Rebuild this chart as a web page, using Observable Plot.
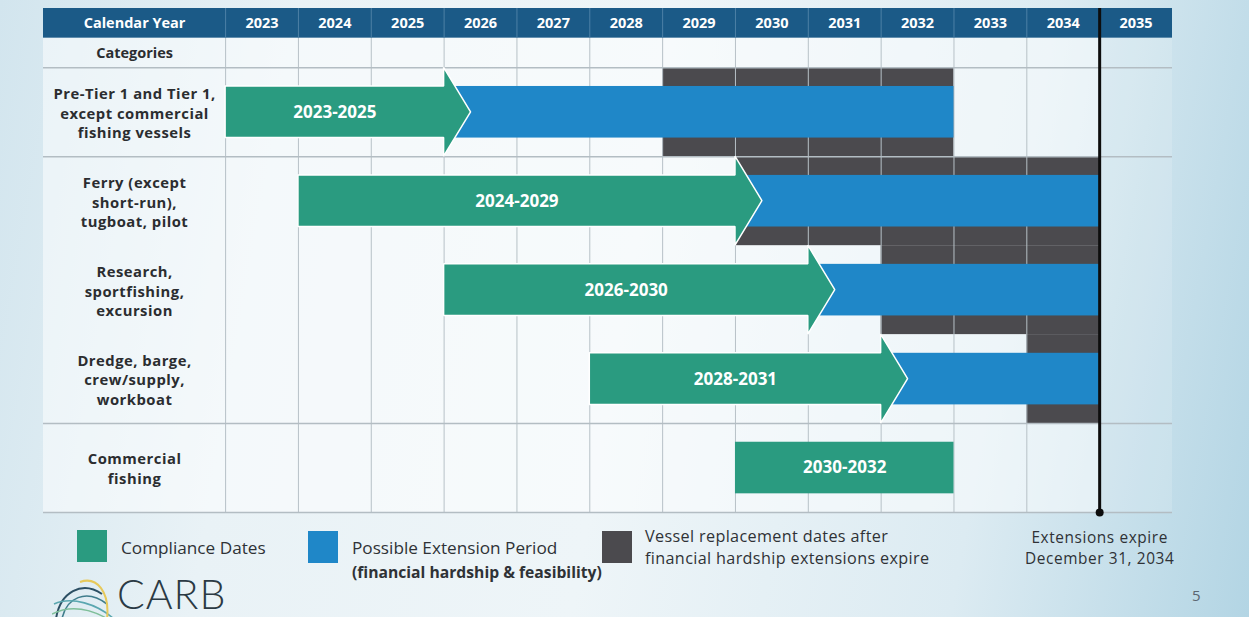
<!DOCTYPE html>
<html>
<head>
<meta charset="utf-8">
<script src="https://cdn.jsdelivr.net/npm/d3@7"></script>
<script src="https://cdn.jsdelivr.net/npm/@observablehq/plot@0.6"></script>
<style>
  html, body { margin: 0; padding: 0; }
  #page {
    position: relative; width: 1249px; height: 617px; overflow: hidden;
    font-family: "Open Sans", sans-serif;
    background: linear-gradient(100deg, #d2e5ee 0%, #e9f2f6 22%, #eef5f8 50%, #dcebf2 78%, #b3d5e4 100%);
  }
  #chart { position: absolute; left: 0; top: 0; }
  .sw { position: absolute; width: 30px; height: 32px; }
  .lt { position: absolute; font-size: 17.2px; color: #2f3236; line-height: 24px; white-space: nowrap; }
  .lb { font-weight: 700; font-size: 15.7px; }
  .l2 { font-size: 16.2px; letter-spacing: 0.35px; line-height: 22px; }
  #logo { position: absolute; left: 52px; top: 574px; }
  #carb { position: absolute; left: 117px; top: 569px; font-size: 41px; font-weight: 300; color: #2b3a44; letter-spacing: 1px; font-family: "Lato", sans-serif; line-height: 50px; }
  #pg { position: absolute; left: 1192px; top: 585px; font-size: 15px; color: #5a6570; }
</style>
</head>
<body>
<div id="page">
  <div id="chart"></div>
  <div class="sw" style="left:77px;top:530px;background:#2a9b80"></div>
  <div class="lt" style="left:121px;top:536px">Compliance Dates</div>
  <div class="sw" style="left:308px;top:531px;background:#1f87c8"></div>
  <div class="lt" style="left:352px;top:536px">Possible Extension Period</div>
  <div class="lt lb" style="left:352px;top:560px">(financial hardship &amp; feasibility)</div>
  <div class="sw" style="left:602px;top:531px;background:#4b4a4e"></div>
  <div class="lt l2" style="left:645px;top:525px">Vessel replacement dates after<br>financial hardship extensions expire</div>
  <svg id="logo" width="70" height="45" viewBox="0 0 70 45">
    <path d="M4 45 C 8 18, 30 6, 50 20" fill="none" stroke="#2c4f63" stroke-width="2"/>
    <path d="M10 45 C 14 24, 34 14, 55 30" fill="none" stroke="#3f7d8c" stroke-width="1.6"/>
    <path d="M2 30 C 20 22, 45 30, 62 45" fill="none" stroke="#5aa7b0" stroke-width="1.6"/>
    <path d="M28 8 C 45 2, 58 18, 55 45" fill="none" stroke="#e7c95a" stroke-width="2"/>
    <path d="M0 40 C 20 30, 40 36, 56 45" fill="none" stroke="#7fbf9a" stroke-width="1.4"/>
  </svg>
  <div id="carb">CARB</div>
  <div id="pg">5</div>
</div>
<script>
// ---- data ----
const categories = [
  "Pre-Tier 1 and Tier 1,\nexcept commercial\nfishing vessels",
  "Ferry (except\nshort-run),\ntugboat, pilot",
  "Research,\nsportfishing,\nexcursion",
  "Dredge, barge,\ncrew/supply,\nworkboat",
  "Commercial\nfishing"
];
const complianceStart = [2023, 2024, 2026, 2028, 2030];
const complianceEnd   = [2026, 2030, 2031, 2032, 2033];
const complianceLabels = ["2023-2025", "2024-2029", "2026-2030", "2028-2031", "2030-2032"];
const extensionEnd     = [2033, 2035, 2035, 2035, null];
const replacementStart = [2029, 2030, 2032, 2034, null];
const replacementEnd   = [2033, 2035, 2035, 2035, null];
const years = [2023, 2024, 2025, 2026, 2027, 2028, 2029, 2030, 2031, 2032, 2033, 2034, 2035];
const groupBreaks = [0, 1, 4, 5];
const extensionsExpire = 2035; // end of Dec 31, 2034
const expireNote = "Extensions expire\nDecember 31, 2034";
const headerTitle = "Calendar Year";
const categoriesTitle = "Categories";

// ---- layout helpers (row index space) ----
const xStart = 2020.5;            // left edge of the category column
const xEnd = years[years.length - 1] + 1;
const labelX = (xStart + years[0]) / 2;
const headerTop = -2/3, headerBottom = -1/3;
const barLo = 0.21, barHi = 0.79, arrowLen = 0.37;

const rows = categories.map((label, i) => ({
  i, label,
  cs: complianceStart[i], ce: complianceEnd[i], cl: complianceLabels[i],
  ee: extensionEnd[i], rs: replacementStart[i], re: replacementEnd[i]
}));
const withExt = rows.filter(r => r.ee != null);
const noExt = rows.filter(r => r.ee == null);
const arrows = withExt.flatMap(r => [
  {i: r.i, x: r.cs, y1: r.i + barLo, y2: r.i + barHi},
  {i: r.i, x: r.ce, y1: r.i + barLo, y2: r.i + barHi},
  {i: r.i, x: r.ce, y1: r.i + 0.0, y2: r.i + 1.0},
  {i: r.i, x: r.ce + arrowLen, y1: r.i + 0.5, y2: r.i + 0.5}
]);

const green = "#2a9b80", blue = "#1f87c8", gray = "#4b4a4e";

const chart = Plot.plot({
  width: 1249, height: 617,
  marginLeft: 43, marginRight: 77, marginTop: 8, marginBottom: 105,
  x: {domain: [xStart, xEnd], axis: null},
  y: {domain: [headerTop, 5], reverse: true, axis: null},
  style: {background: "transparent", fontFamily: "'Open Sans', sans-serif"},
  marks: [
    // table background
    Plot.rect([0], {x1: xStart, x2: extensionsExpire, y1: headerBottom, y2: 5, fill: "#ffffff", fillOpacity: 0.5}),
    Plot.rect([0], {x1: extensionsExpire, x2: xEnd, y1: headerBottom, y2: 5, fill: "#ffffff", fillOpacity: 0.15}),
    // replacement (gray)
    Plot.rect(withExt, {x1: "rs", x2: "re", y1: d => d.i, y2: d => d.i + 1, fill: gray}),
    // grid
    Plot.ruleX(years, {y1: headerBottom, y2: 5, stroke: "#b7c1c7", strokeWidth: 1}),
    Plot.ruleY(groupBreaks, {x1: xStart, x2: xEnd, stroke: "#b3bdc3", strokeWidth: 1.5}),
    // extension (blue)
    Plot.rect(withExt, {x1: "ce", x2: "ee", y1: d => d.i + barLo, y2: d => d.i + barHi, fill: blue}),
    // compliance arrows (green)
    Plot.areaY(arrows, {x: "x", y1: "y1", y2: "y2", z: "i", fill: green, stroke: "#ffffff", strokeWidth: 1.5, strokeLinejoin: "miter"}),
    Plot.rect(noExt, {x1: "cs", x2: "ce", y1: d => d.i + barLo, y2: d => d.i + barHi, fill: green}),
    Plot.text(rows, {x: d => (d.cs + d.ce) / 2, y: d => d.i + 0.5, text: "cl", fill: "#ffffff", fontWeight: 700, fontSize: 17}),
    // header
    Plot.rect([0], {x1: xStart, x2: xEnd, y1: headerTop, y2: headerBottom, fill: "#1b5a87"}),
    Plot.ruleX(years, {y1: headerTop, y2: headerBottom, stroke: "#4d80a6", strokeWidth: 1}),
    Plot.text(years, {x: d => d + 0.5, y: (headerTop + headerBottom) / 2, text: d => String(d), fill: "#ffffff", fontWeight: 700, fontSize: 14.5}),
    Plot.text([headerTitle], {x: labelX, y: (headerTop + headerBottom) / 2, text: d => d, fill: "#ffffff", fontWeight: 700, fontSize: 14.5}),
    Plot.text([categoriesTitle], {x: labelX, y: headerBottom / 2, text: d => d, fill: "#2b2d30", fontWeight: 700, fontSize: 14.5}),
    // category labels
    Plot.text(rows, {x: labelX, y: d => d.i + 0.5, text: "label", fill: "#2b2d30", fontWeight: 700, fontSize: 14.8, lineHeight: 1.34}),
    // extensions expire line
    Plot.ruleX([extensionsExpire], {y1: headerTop, y2: 5, stroke: "#0d0d0d", strokeWidth: 3}),
    Plot.dot([extensionsExpire], {x: d => d, y: 5, r: 4, fill: "#0d0d0d"}),
    Plot.text([expireNote], {x: extensionsExpire, y: 5, text: d => d, dy: 34, fill: "#2f3236", fontSize: 15.4, lineHeight: 1.37})
  ]
});
// a little extra tracking to approximate the wider original typeface
chart.querySelectorAll("text").forEach(t => {
  const s = t.textContent;
  if (s.startsWith("Extensions")) t.setAttribute("letter-spacing", "0.6");
  else if (categories.some(c => c.replace(/\n/g, "") === s)) t.setAttribute("letter-spacing", "0.5");
});
document.getElementById("chart").appendChild(chart);
</script>
</body>
</html>
